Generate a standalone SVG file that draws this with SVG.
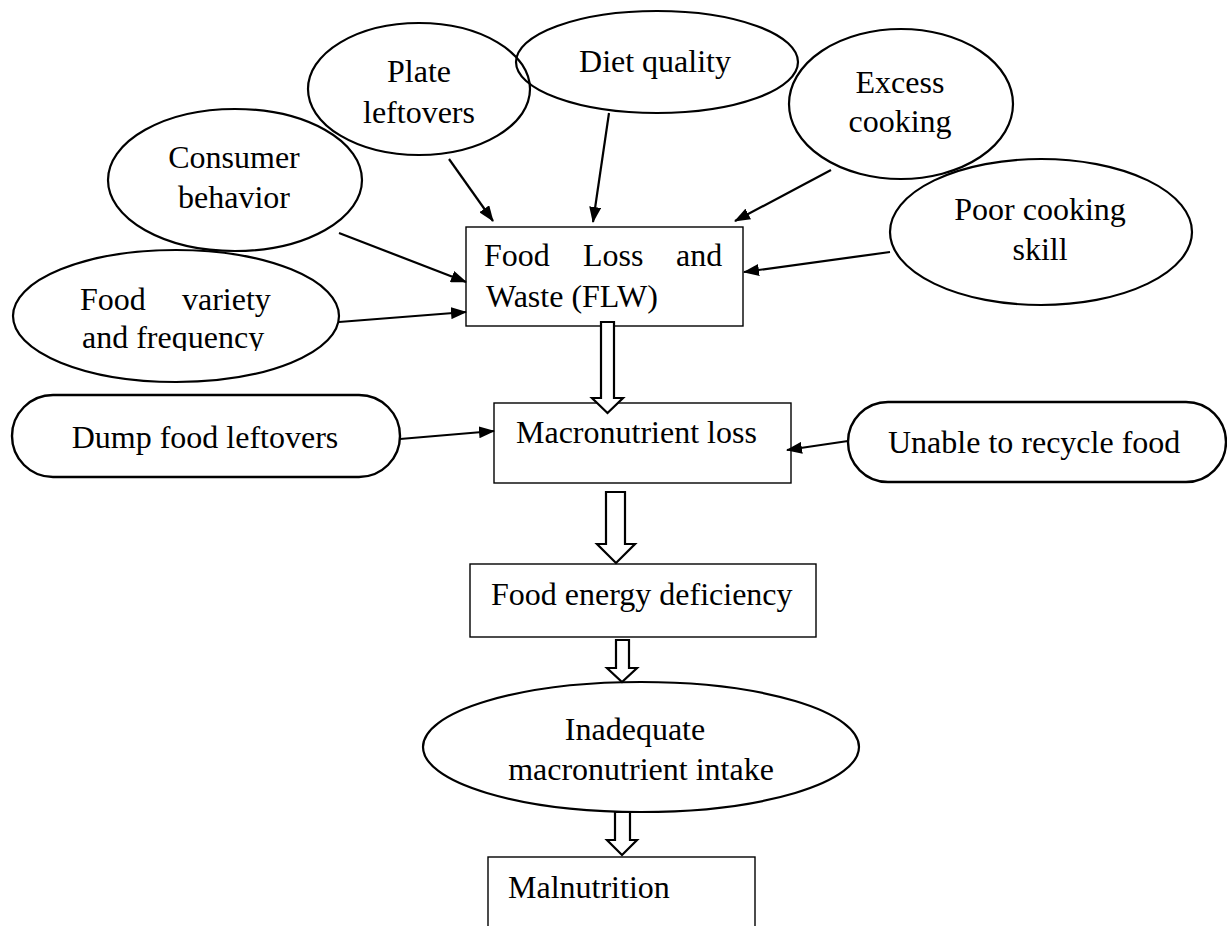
<svg xmlns="http://www.w3.org/2000/svg" width="1227" height="926" viewBox="0 0 1227 926">
  <style>
    text { font-family: "Liberation Serif", "Times New Roman", serif; font-size: 32px; fill: #000; }
    .c { text-anchor: middle; }
    .ell { fill: none; stroke: #000; stroke-width: 2.2; }
    .box { fill: none; stroke: #000; stroke-width: 1.4; }
    .stad { fill: none; stroke: #000; stroke-width: 2.4; }
    .conn { stroke: #000; stroke-width: 2.2; fill: none; marker-end: url(#ah); }
    .hollow { fill: #fff; stroke: #000; stroke-width: 2.2; stroke-linejoin: miter; }
  </style>
  <defs>
    <marker id="ah" markerUnits="userSpaceOnUse" markerWidth="16" markerHeight="12" refX="15" refY="6" orient="auto">
      <path d="M0,0 L16,6 L0,12 z" fill="#000"/>
    </marker>
    <clipPath id="clipFV">
      <rect x="0" y="0" width="400" height="351"/>
    </clipPath>
  </defs>
  <rect x="0" y="0" width="1227" height="926" fill="#fff"/>

  <g id="plate-leftovers">
    <ellipse class="ell" cx="419" cy="89" rx="111" ry="66"/>
    <text class="c" x="419" y="82">Plate</text>
    <text class="c" x="419" y="123">leftovers</text>
  </g>
  <g id="diet-quality">
    <ellipse class="ell" cx="657" cy="62" rx="141" ry="51"/>
    <text class="c" x="655" y="72">Diet quality</text>
  </g>
  <g id="excess-cooking">
    <ellipse class="ell" cx="901" cy="104" rx="112" ry="75"/>
    <text class="c" x="900" y="93">Excess</text>
    <text class="c" x="900" y="132">cooking</text>
  </g>
  <g id="consumer-behavior">
    <ellipse class="ell" cx="235" cy="180" rx="127" ry="71"/>
    <text class="c" x="234" y="168">Consumer</text>
    <text class="c" x="234" y="208">behavior</text>
  </g>
  <g id="poor-cooking-skill">
    <ellipse class="ell" cx="1041" cy="232" rx="151" ry="73"/>
    <text class="c" x="1040" y="220">Poor cooking</text>
    <text class="c" x="1040" y="260">skill</text>
  </g>
  <g id="food-variety">
    <ellipse class="ell" cx="176" cy="316" rx="163" ry="66"/>
    <text x="80" y="310">Food</text>
    <text x="182" y="310">variety</text>
    <text x="82" y="348" clip-path="url(#clipFV)">and frequency</text>
  </g>
  <g id="flw">
    <rect class="box" x="466" y="227" width="277" height="99"/>
    <text x="484" y="266">Food</text>
    <text x="583" y="266">Loss</text>
    <text x="676" y="266">and</text>
    <text x="486" y="307">Waste (FLW)</text>
  </g>
  <g id="dump-food-leftovers">
    <rect class="stad" x="12" y="395" width="388" height="82" rx="41" ry="41"/>
    <text class="c" x="205" y="448">Dump food leftovers</text>
  </g>
  <g id="macronutrient-loss">
    <rect class="box" x="494" y="403" width="297" height="80"/>
    <text x="516" y="443">Macronutrient loss</text>
  </g>
  <g id="unable-to-recycle">
    <rect class="stad" x="848" y="402" width="378" height="80" rx="40" ry="40"/>
    <text x="888" y="453">Unable to recycle food</text>
  </g>
  <g id="food-energy-deficiency">
    <rect class="box" x="470" y="564" width="346" height="73"/>
    <text x="491" y="605">Food energy deficiency</text>
  </g>
  <g id="inadequate-intake">
    <ellipse class="ell" cx="641" cy="747" rx="218" ry="65"/>
    <text class="c" x="635" y="740">Inadequate</text>
    <text class="c" x="641" y="780">macronutrient intake</text>
  </g>
  <g id="malnutrition">
    <rect class="box" x="488" y="857" width="267" height="90"/>
    <text x="508" y="898">Malnutrition</text>
  </g>

  <g id="connectors">
    <line class="conn" x1="449" y1="159" x2="493" y2="221"/>
    <line class="conn" x1="609" y1="113" x2="593" y2="222"/>
    <line class="conn" x1="831" y1="170" x2="735" y2="221"/>
    <line class="conn" x1="339" y1="233" x2="466" y2="282"/>
    <line class="conn" x1="339" y1="322" x2="466" y2="312"/>
    <line class="conn" x1="890" y1="252" x2="744" y2="272"/>
    <line class="conn" x1="400" y1="439" x2="494" y2="431"/>
    <line class="conn" x1="848" y1="441" x2="787" y2="450"/>
    <polygon class="hollow" points="601,322 614,322 614,398 623,398 607.5,413 592,398 601,398"/>
    <polygon class="hollow" points="606,492 625,492 625,544 635,544 616,563 597,544 606,544"/>
    <polygon class="hollow" points="616,640 629,640 629,668 637,668 622,682 607,668 616,668"/>
    <polygon class="hollow" points="615,812 630,812 630,840 637,840 622,855 607,840 615,840"/>
  </g>
</svg>
